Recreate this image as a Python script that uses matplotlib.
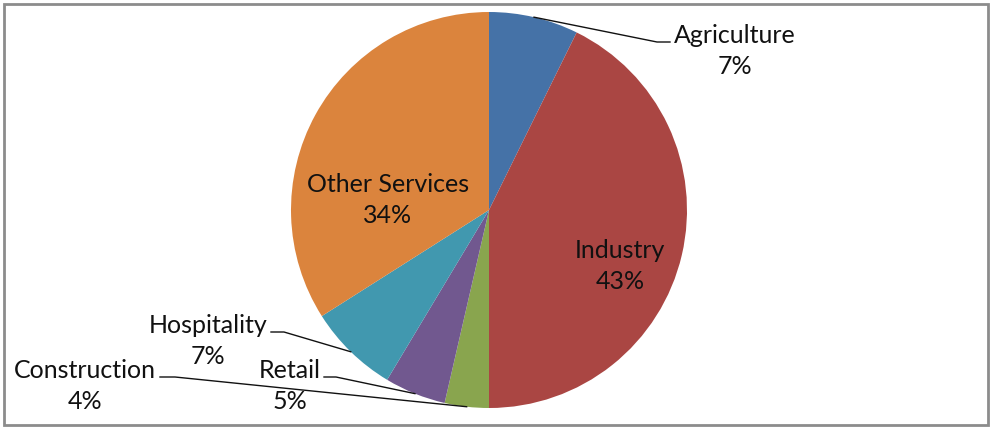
import numpy as np
import matplotlib.pyplot as plt
from matplotlib.patches import Rectangle

sectors = ['Agriculture', 'Industry', 'Construction', 'Retail', 'Hospitality', 'Other Services']
shares = [7.3, 42.7, 3.6, 5.0, 7.4, 34.0]
colors = ['#4572A7', '#AA4643', '#89A54E', '#71588F', '#4198AF', '#DB843D']

plt.rcParams['font.family'] = ['Lato', 'DejaVu Sans']

W, H = 991, 428
fig = plt.figure(figsize=(W / 100, H / 100), dpi=100)
ax = fig.add_axes([0, 0, 1, 1])

cx, cy, r = 489, H - 210, 198
wedges, _ = ax.pie(shares, colors=colors, startangle=90, counterclock=False,
                   center=(cx, cy), radius=r, wedgeprops=dict(linewidth=0))
ax.set_xlim(0, W)
ax.set_ylim(0, H)
ax.set_aspect('equal')
ax.axis('off')

# frame around the chart area
ax.add_patch(Rectangle((3.5, 3.5), W - 7, H - 7, fill=False, ec='#8c8c8c', lw=2))

fs = 18
# label placement (pixel coords from top-left): text centre, leader elbow, leader end at text
layout = {
    'Agriculture': dict(text=(735, 51), elbow=(657, 42), tail=(670, 42)),
    'Industry': dict(text=(620, 266)),
    'Construction': dict(text=(85, 386), elbow=(175, 377), tail=(160, 377)),
    'Retail': dict(text=(290, 386), elbow=(336, 377), tail=(324, 377)),
    'Hospitality': dict(text=(208, 341), elbow=(284, 332), tail=(271, 332)),
    'Other Services': dict(text=(388, 200)),
}

for w, name, v in zip(wedges, sectors, shares):
    lay = layout[name]
    tx, ty = lay['text']
    ax.text(tx, H - ty, f'{name}\n{v:.0f}%', ha='center', va='center',
            fontsize=fs, color='#111111', linespacing=1.38)
    if 'elbow' in lay:
        mid = np.deg2rad((w.theta1 + w.theta2) / 2)
        ax_, ay_ = cx + r * np.cos(mid), cy + r * np.sin(mid)
        ex, ey = lay['elbow']
        sx, sy = lay['tail']
        ax.plot([ax_, ex, sx], [ay_, H - ey, H - sy], color='#111111', lw=1)

fig.savefig('out.png', dpi=100)
